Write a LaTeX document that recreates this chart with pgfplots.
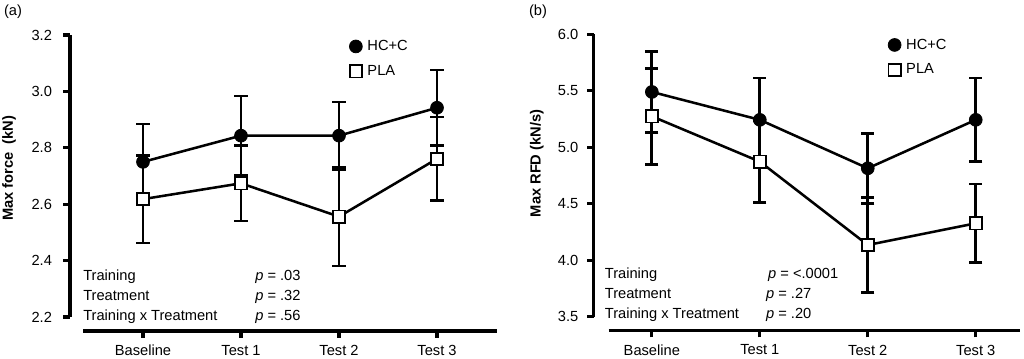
\documentclass[border=0pt]{standalone}
\usepackage{pgfplots}
\pgfplotsset{compat=1.18}
\usepackage{fontspec}
\setmainfont{Liberation Sans}
\newcommand{\fs}{\fontsize{11}{13}\selectfont}
\pgfplotsset{
  error bars/draw error bar/.code 2 args={%
    \draw[line width=2.1pt, black] #1 -- #2;
    \pgfkeysgetvalue{/pgfplots/error bars/error mark}{\pgfplotserrorbarsmark}%
    \pgfkeysgetvalue{/pgfplots/error bars/error mark options}{\pgfplotserrorbarsmarkopts}%
    \path #1 -- #2 node [pos=1.0,sloped,allow upside down] {%
      \expandafter\tikz\expandafter[\pgfplotserrorbarsmarkopts]{%
        \expandafter\pgfuseplotmark\expandafter{\pgfplotserrorbarsmark}%
        \pgfusepath{stroke}}%
    };
  },
}
\pgfplotsset{
  panel/.style={
    scale only axis, clip=false,
    axis lines=left,
    axis line style={-, line width=2.3pt, black},
    major tick style={line width=2.3pt, black},
    tick align=outside, major tick length=5pt,
    xtick={0,1,2,3},
    xticklabels={Baseline, Test 1, Test 2, Test 3},
    xticklabel style={yshift=-2pt},
    /pgf/number format/assume math mode=true,
    tick label style={font=\fs},
    legend style={draw=none, fill=none, font=\fs, anchor=north west, row sep=9.25pt, inner sep=0pt, nodes={inner sep=0pt}},
    legend cell align=left,
    legend image code/.code={\draw[##1] plot coordinates {(0.15cm,0cm)}; \path (0.15cm,0cm) ++(8.5pt,0pt);},
    every error bar/.append style={line width=2.1pt, black},
  },
  hc/.style={only marks, mark=*, mark size=4.8pt, mark options={fill=black, draw=black, line width=0.6pt}},
  pla/.style={only marks, mark=square*, mark size=4.6pt, mark options={fill=white, draw=black, line width=1.4pt}},
}
\begin{document}
\begin{tikzpicture}
\useasboundingbox (0,0) rectangle (768pt,269.25pt);
% ---------------- panel (a)
\begin{axis}[panel,
  at={(62.25pt,31.5pt)}, anchor=south west,
  width=310.5pt, height=211.5pt,
  xmin=-0.612, xmax=3.612, ymin=2.2, ymax=3.2,
  ytick={2.2,2.4,...,3.21},
  yticklabel style={xshift=-5pt, /pgf/number format/.cd, fixed, fixed zerofill, precision=1},
  axis y line shift=9.75pt, axis x line shift=10.5pt,
  ylabel={Max force\ \ (kN)},
  every axis y label/.style={at={(rel axis cs:0,0.527)}, xshift=-55.5pt, rotate=90, anchor=center, font=\fs\bfseries},
  legend style={at={(axis cs:2.104,3.183)}},
]
\addplot[line width=1.9pt, black, mark=none, forget plot,
  error bars/.cd, y dir=both, y explicit,
  error bar style={line width=2.1pt, black},
  error mark options={rotate=90, line width=1.9pt, mark size=4.9pt, black}]
  coordinates {(0,2.750) +- (0,0.135) (1,2.843) +- (0,0.140) (2,2.843) +- (0,0.120) (3,2.942) +- (0,0.134)};
\addplot[line width=1.9pt, black, mark=none, forget plot,
  error bars/.cd, y dir=both, y explicit,
  error bar style={line width=2.1pt, black},
  error mark options={rotate=90, line width=1.9pt, mark size=4.9pt, black}]
  coordinates {(0,2.618) +- (0,0.155) (1,2.674) +- (0,0.134) (2,2.556) +- (0,0.175) (3,2.761) +- (0,0.148)};
\addplot[hc] coordinates {(0,2.750) (1,2.843) (2,2.843) (3,2.942)};
\addlegendentry{HC+C}
\addplot[pla] coordinates {(0,2.618) (1,2.674) (2,2.556) (3,2.761)};
\addlegendentry{PLA}
\node[anchor=base west, inner sep=0pt, font=\fs] at (axis cs:-0.612,2.329) {Training};
\node[anchor=base west, inner sep=0pt, font=\fs] at (axis cs:-0.612,2.258) {Treatment};
\node[anchor=base west, inner sep=0pt, font=\fs] at (axis cs:-0.612,2.187) {Training x Treatment};
\node[anchor=base west, inner sep=0pt, font=\fs] at (axis cs:1.143,2.329) {\textit{p} = .03};
\node[anchor=base west, inner sep=0pt, font=\fs] at (axis cs:1.143,2.258) {\textit{p} = .32};
\node[anchor=base west, inner sep=0pt, font=\fs] at (axis cs:1.143,2.187) {\textit{p} = .56};
\end{axis}
% ---------------- panel (b)
\begin{axis}[panel,
  at={(456.5pt,31.7pt)}, anchor=south west,
  width=308.5pt, height=211.8pt,
  xmin=-0.40, xmax=3.41, ymin=3.5, ymax=6.0,
  ytick={3.5,4.0,...,6.01},
  yticklabel style={xshift=-3pt, /pgf/number format/.cd, fixed, fixed zerofill, precision=1},
  axis y line shift=11.25pt, axis x line shift=10.5pt,
  ylabel={Max RFD (kN/s)},
  every axis y label/.style={at={(rel axis cs:0,0.543)}, xshift=-53.8pt, rotate=90, anchor=center, font=\fs\bfseries},
  legend style={at={(axis cs:2.187,5.965)}},
]
\addplot[line width=1.9pt, black, mark=none, forget plot,
  error bars/.cd, y dir=both, y explicit,
  error bar style={line width=2.1pt, black},
  error mark options={rotate=90, line width=1.9pt, mark size=4.9pt, black}]
  coordinates {(0,5.490) +- (0,0.360) (1,5.243) +- (0,0.370) (2,4.814) +- (0,0.310) (3,5.243) +- (0,0.370)};
\addplot[line width=1.9pt, black, mark=none, forget plot,
  error bars/.cd, y dir=both, y explicit,
  error bar style={line width=2.1pt, black},
  error mark options={rotate=90, line width=1.9pt, mark size=4.9pt, black}]
  coordinates {(0,5.274) +- (0,0.425) (1,4.873) +- (0,0.360) (2,4.135) +- (0,0.420) (3,4.327) +- (0,0.347)};
\addplot[hc] coordinates {(0,5.490) (1,5.243) (2,4.814) (3,5.243)};
\addlegendentry{HC+C}
\addplot[pla] coordinates {(0,5.274) (1,4.873) (2,4.135) (3,4.327)};
\addlegendentry{PLA}
\node[anchor=base west, inner sep=0pt, font=\fs] at (axis cs:-0.438,3.834) {Training};
\node[anchor=base west, inner sep=0pt, font=\fs] at (axis cs:-0.438,3.657) {Treatment};
\node[anchor=base west, inner sep=0pt, font=\fs] at (axis cs:-0.438,3.480) {Training x Treatment};
\node[anchor=base west, inner sep=0pt, font=\fs] at (axis cs:1.075,3.834) {\textit{p} = <.0001};
\node[anchor=base west, inner sep=0pt, font=\fs] at (axis cs:1.056,3.657) {\textit{p} = .27};
\node[anchor=base west, inner sep=0pt, font=\fs] at (axis cs:1.056,3.480) {\textit{p} = .20};
\end{axis}
\node[font=\fs] at (9.75pt,260.25pt) {(a)};
\node[font=\fs] at (403.5pt,260.25pt) {(b)};
\end{tikzpicture}
\end{document}
